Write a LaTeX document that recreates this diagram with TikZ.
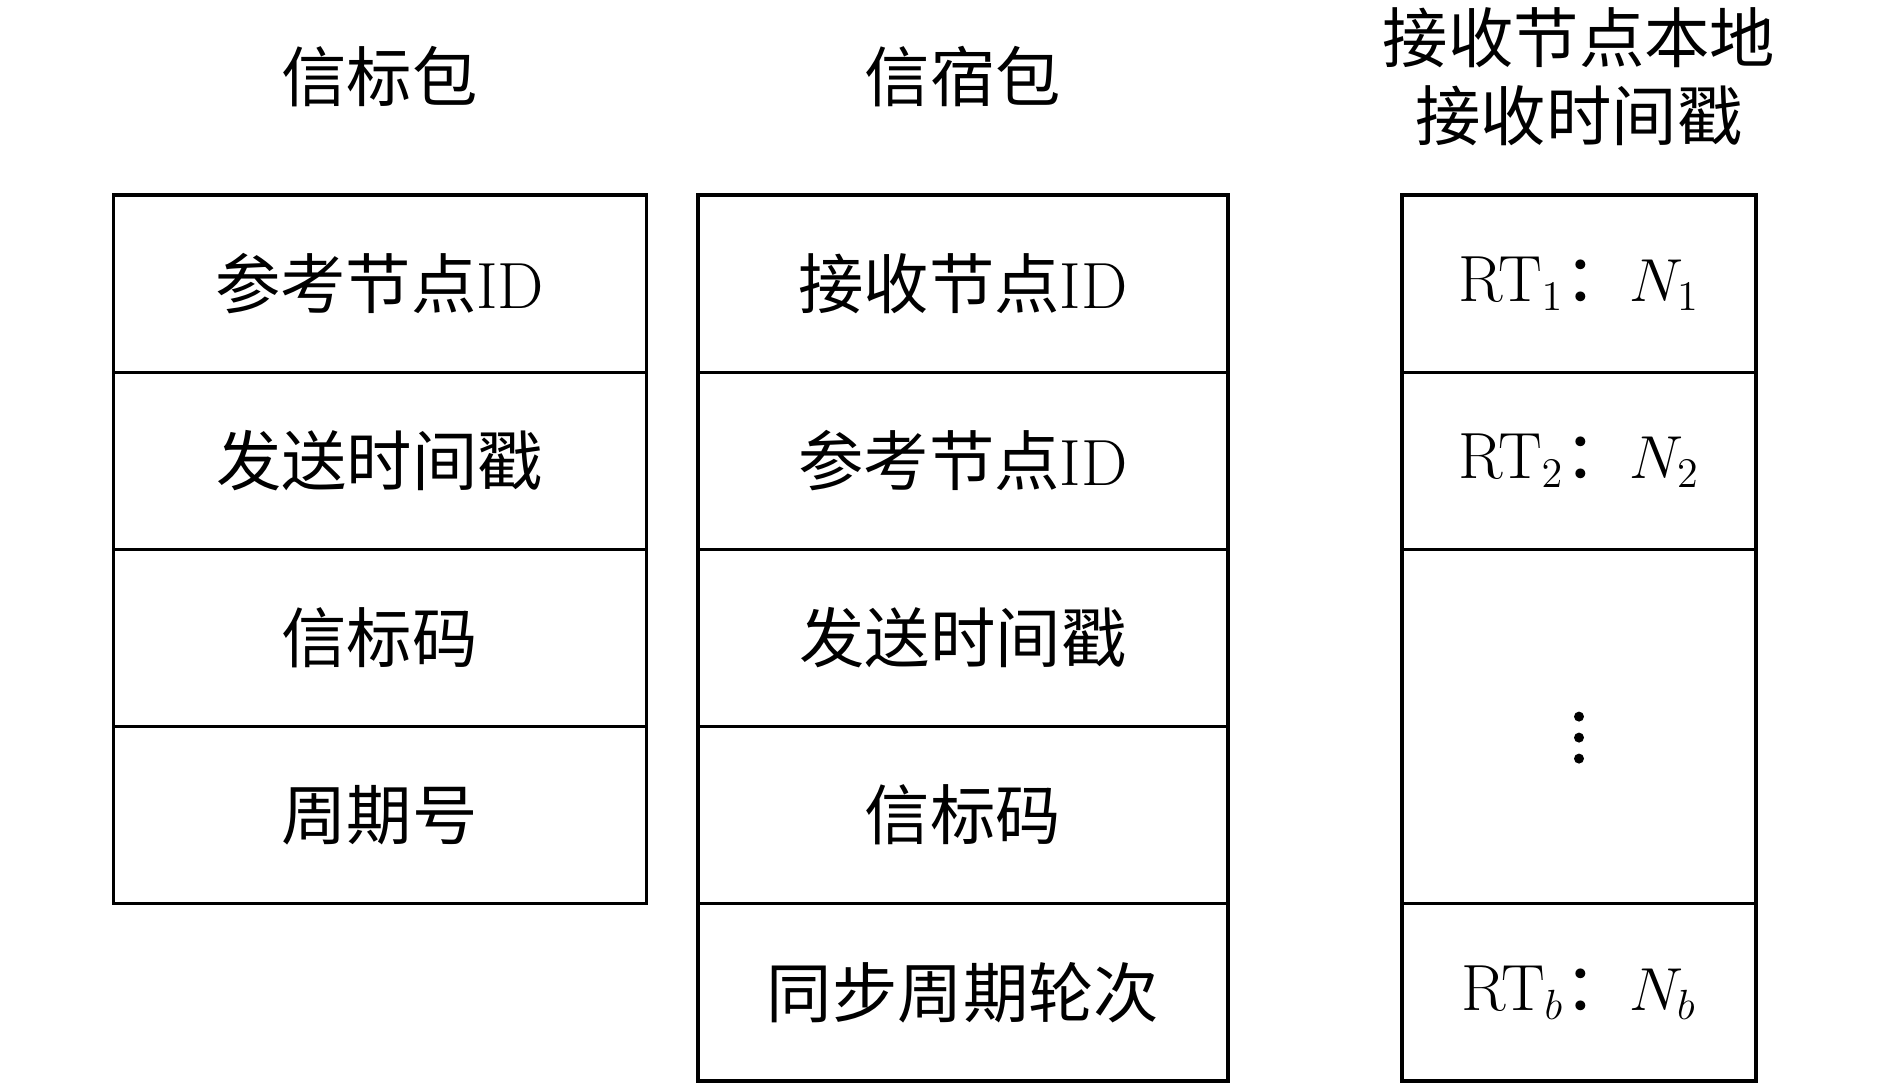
\documentclass[tikz,border=0pt]{standalone}
\usepackage{fontspec}
\newfontfamily\cjk{Noto Sans CJK SC}
\newcommand{\zh}[1]{{\cjk #1}}

\begin{document}
\begin{tikzpicture}[font=\fontsize{18.6}{22.1}\selectfont,
    cell/.style={draw,line width=0.9pt,minimum height=1.772cm,inner sep=0pt}]
    \useasboundingbox (0,0) rectangle (18.9,10.87);
    % titles
    \node (tbeacon) at (3.796,10.1) {\zh{信标包}};
    \node (tsink) at (9.63,10.1) {\zh{信宿包}};
    \node (tstamp) [align=center] at (15.79,10.1) {\zh{接收节点本地}\\\zh{接收时间戳}};
    % beacon packet
    \foreach \y/\t [count=\i] in {8.034/\zh{参考节点}ID, 6.262/\zh{发送时间戳},
        4.49/\zh{信标码}, 2.718/\zh{周期号}}
        \node [cell,minimum width=5.33cm] (b\i) at (3.796,\y) {\t};
    % sink packet
    \foreach \y/\t [count=\i] in {8.034/\zh{接收节点}ID, 6.262/\zh{参考节点}ID,
        4.49/\zh{发送时间戳}, 2.718/\zh{信标码}, 0.946/\zh{同步周期轮次}}
        \node [cell,minimum width=5.3cm] (s\i) at (9.63,\y) {\t};
    % local receive time stamps
    \begin{scope}[every node/.style={cell,minimum width=3.54cm}]
    \node (r1) at (15.79,8.034) {RT$_1$\zh{：}$N_1$};
    \node (r2) at (15.79,6.262) {RT$_2$\zh{：}$N_2$};
    \node (rdots) [minimum height=3.544cm] at (15.79,3.604) {};
    \node (rb) at (15.79,0.946) {RT$_b$\zh{：}$N_b$};
    \end{scope}
    \foreach \dy in {0.1,-0.11,-0.32}
        \fill ([yshift=\dy cm]rdots.center) circle (0.05);
\end{tikzpicture}
\end{document}
